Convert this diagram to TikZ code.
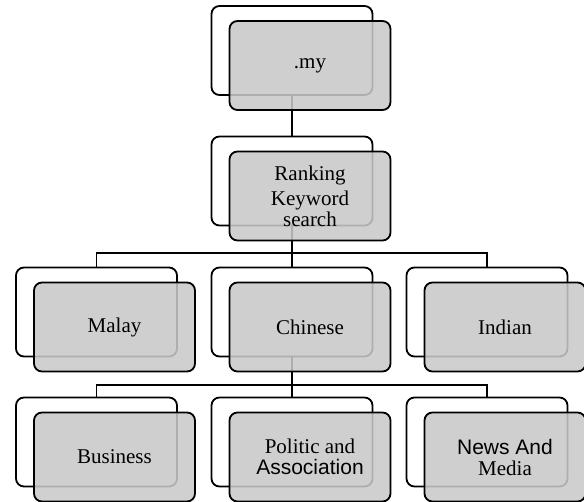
\documentclass[tikz,border=0pt]{standalone}
\usepackage{fontspec}
\setmainfont{Liberation Serif}
\setsansfont{Liberation Sans}
\usetikzlibrary{calc, backgrounds}
\definecolor{boxgray}{RGB}{201,201,201}

\begin{document}
\begin{tikzpicture}[
    x=1pt, y=1pt,
    backbox/.style={draw, rounded corners=8pt, fill=white, line width=1.8pt,
        minimum width=161pt, minimum height=89pt, inner sep=0pt},
    frontbox/.style={draw, rounded corners=8pt, fill=boxgray, fill opacity=0.87,
        text opacity=1, line width=1.8pt, minimum width=161pt, minimum height=89pt,
        align=center, font=\fontsize{21}{21}\selectfont},
    link/.style={line width=1.8pt}
]
\useasboundingbox (0,0) rectangle (584,-501);
% Define shapes (back frames)
\coordinate (row1) at (0,-253);
\coordinate (row2) at (0,-385);
\node (my_back) [backbox] at (292,-50.5) {};
\node (rank_back) [backbox] at (292,-181) {};
\node (malay_back) [backbox] at (96.5,-312) {};
\node (chinese_back) [backbox] at (292,-312) {};
\node (indian_back) [backbox] at (487,-312) {};
\node (business_back) [backbox] at (96.5,-442) {};
\node (politic_back) [backbox] at (292,-442) {};
\node (news_back) [backbox] at (487,-442) {};
% Draw lines
\begin{pgfonlayer}{background}
\draw[link] (my_back.center) -- (rank_back.center);
\draw[link] (rank_back.center) -- (politic_back.center |- row2);
\draw[link] (malay_back.north) -- (malay_back.north |- row1) -- (indian_back.north |- row1) -- (indian_back.north);
\draw[link] (chinese_back.north) -- (chinese_back.north |- row1);
\draw[link] (business_back.north) -- (business_back.north |- row2) -- (news_back.north |- row2) -- (news_back.north);
\draw[link] (politic_back.north) -- (politic_back.north |- row2);
\end{pgfonlayer}
% Front boxes
\node (my) [frontbox] at ($(my_back)+(18,-15)$) {.my};
\node (rank) [frontbox] at ($(rank_back)+(18,-15)$) {Ranking\\[4pt] Keyword\\ search};
\node (malay) [frontbox] at ($(malay_back)+(18,-15)$) {Malay};
\node (chinese) [frontbox] at ($(chinese_back)+(18,-15)$) {Chinese};
\node (indian) [frontbox] at ($(indian_back)+(18,-15)$) {Indian};
\node (business) [frontbox] at ($(business_back)+(18,-15)$) {Business};
\node (politic) [frontbox] at ($(politic_back)+(18,-15)$) {Politic and\\ \sffamily Association};
\node (news) [frontbox] at ($(news_back)+(18,-15)$) {\sffamily News And\\ Media};
\end{tikzpicture}
\end{document}
